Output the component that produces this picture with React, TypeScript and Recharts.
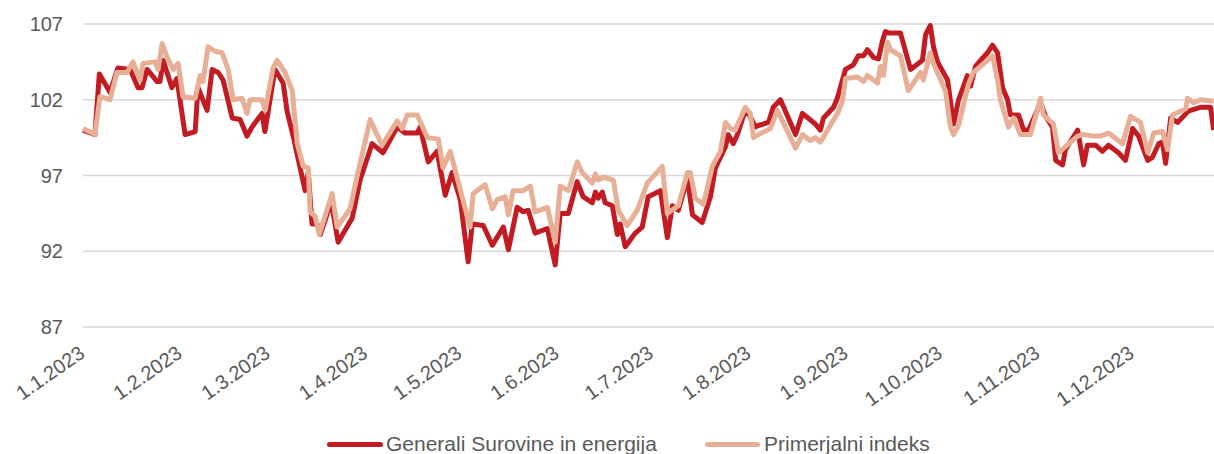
import React from 'react';
import { LineChart, Line, XAxis, YAxis, CartesianGrid, Legend } from 'recharts';

// Day of year 2023 (0 = 1.1.2023) at which each month label sits
const monthTickDays = [0, 31, 59, 90, 120, 151, 181, 212, 243, 273, 304, 334];
const monthTickLabels = [
  '1.1.2023', '1.2.2023', '1.3.2023', '1.4.2023', '1.5.2023', '1.6.2023',
  '1.7.2023', '1.8.2023', '1.9.2023', '1.10.2023', '1.11.2023', '1.12.2023',
];
const yTicks = [87, 92, 97, 102, 107];
const seriesNames = ['Generali Surovine in energija', 'Primerjalni indeks'];

const generaliDays = [
  0, 3.8, 5.2, 8.6, 11.1, 15.0, 17.5, 18.8, 20.4, 23.6, 24.5, 25.5, 28.3, 29.9, 32.5, 35.7, 36.6, 39.5,
  41.1, 43.0, 44.6, 47.5, 50.0, 52.2, 53.8, 57.0, 57.9, 61.1, 63.7, 65.0, 66.9, 70.7, 71.7, 72.9, 74.5,
  75.5, 77.0, 79.0, 81.2, 85.7, 88.2, 92.0, 95.5, 100.0, 102.5, 106.4, 107.3, 109.9, 112.7, 115.3, 117.5,
  120.1, 122.6, 123.9, 127.4, 130.3, 133.8, 135.4, 138.2, 140.1, 141.7, 143.9, 147.8, 150.3, 151.9, 154.5,
  157.3, 159.2, 162.1, 163.1, 164.0, 165.3, 166.2, 168.5, 170.1, 171.0, 172.6, 175.8, 178.0, 179.9, 183.8,
  186.0, 187.6, 189.5, 192.4, 194.0, 197.1, 199.7, 201.3, 204.5, 205.4, 207.0, 208.3, 210.8, 212.4, 214.0,
  215.0, 218.2, 219.7, 222.0, 226.8, 229.0, 233.1, 234.7, 235.7, 238.9, 240.1, 242.7, 245.2, 246.8, 248.4,
  249.7, 251.6, 253.2, 254.5, 255.4, 256.4, 260.2, 263.4, 267.2, 268.2, 269.7, 270.7, 272.0, 275.2, 277.1,
  278.7, 281.5, 282.5, 284.1, 285.7, 287.9, 289.5, 291.1, 292.7, 294.3, 295.2, 297.8, 299.4, 301.0, 304.8,
  306.4, 308.6, 309.6, 311.8, 312.7, 316.6, 318.5, 319.7, 322.3, 324.5, 326.4, 329.6, 331.8, 334.1, 336.0,
  338.9, 340.4, 342.4, 343.6, 344.6, 346.2, 348.4, 351.6, 352.5, 355.7, 358.9, 359.9,
];
const generaliValues = [
  100.0, 99.7, 103.7, 102.5, 104.1, 104.0, 102.8, 102.8, 104.0, 103.2, 103.2, 104.6, 102.8, 103.4, 99.7, 99.9, 102.8, 101.3,
  104.0, 103.8, 103.3, 100.8, 100.7, 99.6, 100.2, 101.1, 99.9, 104.0, 103.1, 101.2, 99.6, 96.0, 97.2, 93.8, 93.8,
  93.1, 94.0, 95.3, 92.6, 94.2, 96.7, 99.1, 98.5, 100.2, 99.8, 99.8, 100.2, 97.9, 98.6, 95.7, 97.2,
  95.4, 91.3, 93.8, 93.7, 92.4, 93.6, 92.1, 94.9, 94.6, 94.7, 93.2, 93.5, 91.1, 94.5, 94.5,
  96.6, 95.6, 95.2, 95.9, 95.5, 95.9, 95.2, 95.0, 93.1, 93.8, 92.3, 93.2, 93.6, 95.6, 96.0,
  92.9, 95.0, 94.7, 96.8, 94.4, 93.9, 95.6, 97.5, 98.9, 99.7, 99.1, 99.7, 101.3, 100.9, 100.2,
  100.3, 100.5, 101.5, 102.0, 99.7, 101.1, 100.4, 100.0, 100.8, 101.5, 102.1, 104.0, 104.3, 104.9, 104.9,
  105.3, 104.8, 104.7, 105.9, 106.5, 106.4, 106.4, 104.0, 104.6, 106.3, 106.9, 105.5, 104.5, 103.3, 100.4,
  102.0, 103.6, 102.9, 104.2, 104.6, 105.1, 105.6, 105.1, 102.8, 102.0, 101.0, 101.0, 100.0, 100.0, 101.8,
  100.9, 100.2, 98.0, 97.7, 98.7, 100.0, 97.7, 99.0, 99.0, 98.6, 99.0, 98.5, 98.0, 100.1, 99.6,
  98.0, 98.2, 99.1, 99.2, 97.8, 100.8, 100.5, 101.2, 101.3, 101.5, 101.5, 100.0,
];

const indexDays = [
  0, 3.8, 5.4, 8.6, 10.8, 14.0, 15.9, 18.2, 19.1, 22.9, 23.9, 25.2, 26.8, 28.7, 30.3, 31.8, 35.7, 37.3,
  38.2, 39.8, 42.0, 44.3, 46.2, 47.8, 50.6, 52.2, 53.2, 57.0, 58.0, 60.5, 61.8, 64.3, 66.6, 68.2, 70.1,
  71.7, 72.3, 73.9, 75.2, 79.3, 80.9, 85.0, 87.3, 91.4, 93.6, 95.2, 100.0, 101.6, 103.2, 106.4, 109.6,
  113.1, 114.6, 116.9, 123.2, 124.2, 128.0, 130.3, 131.8, 134.4, 135.4, 136.9, 140.1, 142.4, 143.9, 147.8,
  150.3, 151.9, 154.5, 157.3, 158.9, 162.1, 163.1, 164.0, 165.6, 168.8, 170.4, 173.2, 176.4, 179.6, 184.4,
  186.0, 189.5, 192.4, 193.3, 194.9, 197.5, 200.3, 202.9, 204.5, 206.1, 207.6, 210.8, 212.4, 213.4, 215.0,
  218.8, 221.0, 226.8, 229.0, 231.5, 233.1, 234.7, 237.3, 240.4, 241.7, 242.7, 246.5, 248.4, 249.7, 252.9,
  253.8, 254.8, 256.1, 257.0, 260.2, 262.7, 266.6, 267.5, 269.7, 270.7, 274.5, 276.1, 277.1, 278.7, 281.8,
  283.4, 287.9, 289.5, 291.1, 292.0, 294.6, 296.2, 298.4, 301.6, 304.8, 305.7, 308.9, 310.5, 312.7, 316.6,
  318.2, 321.7, 323.9, 326.4, 330.9, 333.4, 336.6, 338.9, 340.8, 343.6, 345.2, 346.8, 351.0, 351.6, 353.5,
  355.7, 359.9,
];
const indexValues = [
  100.1, 99.7, 102.2, 102.0, 103.8, 103.8, 104.5, 103.3, 104.4, 104.5, 104.0, 105.7, 104.8, 104.0, 104.4, 102.2, 102.1, 103.6,
  103.2, 105.5, 105.2, 105.1, 104.0, 102.0, 102.1, 101.1, 102.0, 102.0, 101.3, 104.1, 104.6, 103.8, 102.6, 99.1, 97.6,
  97.5, 94.6, 94.3, 93.1, 95.8, 93.6, 94.8, 97.0, 100.7, 99.7, 99.0, 100.6, 100.1, 101.0, 101.0, 99.5,
  99.4, 97.5, 98.6, 93.6, 95.8, 96.4, 94.8, 95.4, 95.6, 94.4, 96.0, 96.0, 96.3, 94.6, 94.9,
  92.6, 96.3, 96.0, 97.9, 97.2, 96.5, 97.1, 96.7, 96.9, 96.7, 94.7, 93.7, 94.7, 96.5, 97.6,
  94.5, 95.0, 97.2, 97.2, 95.5, 95.1, 97.6, 98.6, 100.5, 100.1, 100.0, 101.5, 101.1, 99.5, 99.7,
  100.1, 101.3, 98.8, 99.7, 99.3, 99.5, 99.2, 100.1, 101.2, 101.9, 103.4, 103.5, 103.2, 103.6, 103.1,
  104.2, 103.6, 105.8, 105.3, 104.9, 102.6, 103.8, 103.3, 105.1, 104.4, 102.6, 100.2, 99.7, 100.3, 103.0,
  103.8, 104.6, 104.9, 103.3, 102.0, 100.2, 100.8, 99.7, 99.7, 102.1, 101.0, 100.4, 98.5, 98.9, 99.6,
  99.7, 99.6, 99.6, 99.8, 99.1, 100.9, 100.5, 98.5, 99.8, 99.9, 98.7, 101.0, 101.4, 102.1, 101.8,
  102.0, 101.9,
];

type Row = { day: number; generali?: number | null; index?: number | null };

const buildData = (): Row[] => {
  const map = new Map<number, Row>();
  generaliDays.forEach((d, i) => {
    const r = map.get(d) || { day: d, generali: null, index: null };
    r.generali = generaliValues[i];
    map.set(d, r);
  });
  indexDays.forEach((d, i) => {
    const r = map.get(d) || { day: d, generali: null, index: null };
    r.index = indexValues[i];
    map.set(d, r);
  });
  return Array.from(map.values()).sort((a, b) => a.day - b.day);
};

const data = buildData();

const FONT = '"Liberation Sans", Arial, sans-serif';
const TEXT_COLOR = '#595959';
const RED = '#C21B22';
const PEACH = '#E8AF97';

const XTick = (props: any) => {
  const { x, y, payload } = props;
  const i = monthTickDays.indexOf(payload.value);
  const ax = x + 3;
  return (
    <text
      x={ax}
      y={y}
      transform={`rotate(-35, ${ax}, ${y})`}
      textAnchor="end"
      fill={TEXT_COLOR}
      fontSize={20}
      fontFamily={FONT}
    >
      {monthTickLabels[i]}
    </text>
  );
};

const LegendContent = () => (
  <div style={{ position: 'relative', height: 30, fontFamily: FONT, fontSize: 21, color: TEXT_COLOR }}>
    <div style={{ position: 'absolute', left: 327, top: 8, display: 'flex', alignItems: 'center', lineHeight: '24px', whiteSpace: 'nowrap' }}>
      <span style={{ display: 'inline-block', width: 56, height: 5, borderRadius: 3, background: RED, marginRight: 3 }} />
      <span>{seriesNames[0]}</span>
    </div>
    <div style={{ position: 'absolute', left: 705, top: 8, display: 'flex', alignItems: 'center', lineHeight: '24px', whiteSpace: 'nowrap' }}>
      <span style={{ display: 'inline-block', width: 55, height: 5, borderRadius: 3, background: PEACH, marginRight: 4 }} />
      <span>{seriesNames[1]}</span>
    </div>
  </div>
);

export default function App() {
  return (
    <div style={{ position: 'absolute', left: 0, top: 0, width: 1214, height: 454, background: '#fff' }}>
      <LineChart width={1214} height={454} data={data} margin={{ top: 24, right: 0, left: 0, bottom: 0 }}>
        <CartesianGrid vertical={false} stroke="#D9D9D9" strokeWidth={1.5} />
        <XAxis
          dataKey="day"
          type="number"
          domain={[0, 360]}
          ticks={monthTickDays}
          interval={0}
          axisLine={false}
          tickLine={false}
          tickSize={0}
          tickMargin={29}
          height={97}
          tick={<XTick />}
        />
        <YAxis
          type="number"
          domain={[87, 107]}
          ticks={yTicks}
          interval={0}
          axisLine={false}
          tickLine={false}
          tickSize={0}
          tickMargin={20}
          width={83}
          tick={{ fill: TEXT_COLOR, fontSize: 20, fontFamily: FONT }}
        />
        <Legend verticalAlign="bottom" align="left" content={<LegendContent />} wrapperStyle={{ height: 30 }} />
        <Line
          type="linear"
          dataKey="generali"
          name={seriesNames[0]}
          stroke={RED}
          strokeWidth={5}
          strokeLinejoin="round"
          dot={false}
          connectNulls
          isAnimationActive={false}
        />
        <Line
          type="linear"
          dataKey="index"
          name={seriesNames[1]}
          stroke={PEACH}
          strokeWidth={5}
          strokeLinejoin="round"
          dot={false}
          connectNulls
          isAnimationActive={false}
        />
      </LineChart>
    </div>
  );
}
